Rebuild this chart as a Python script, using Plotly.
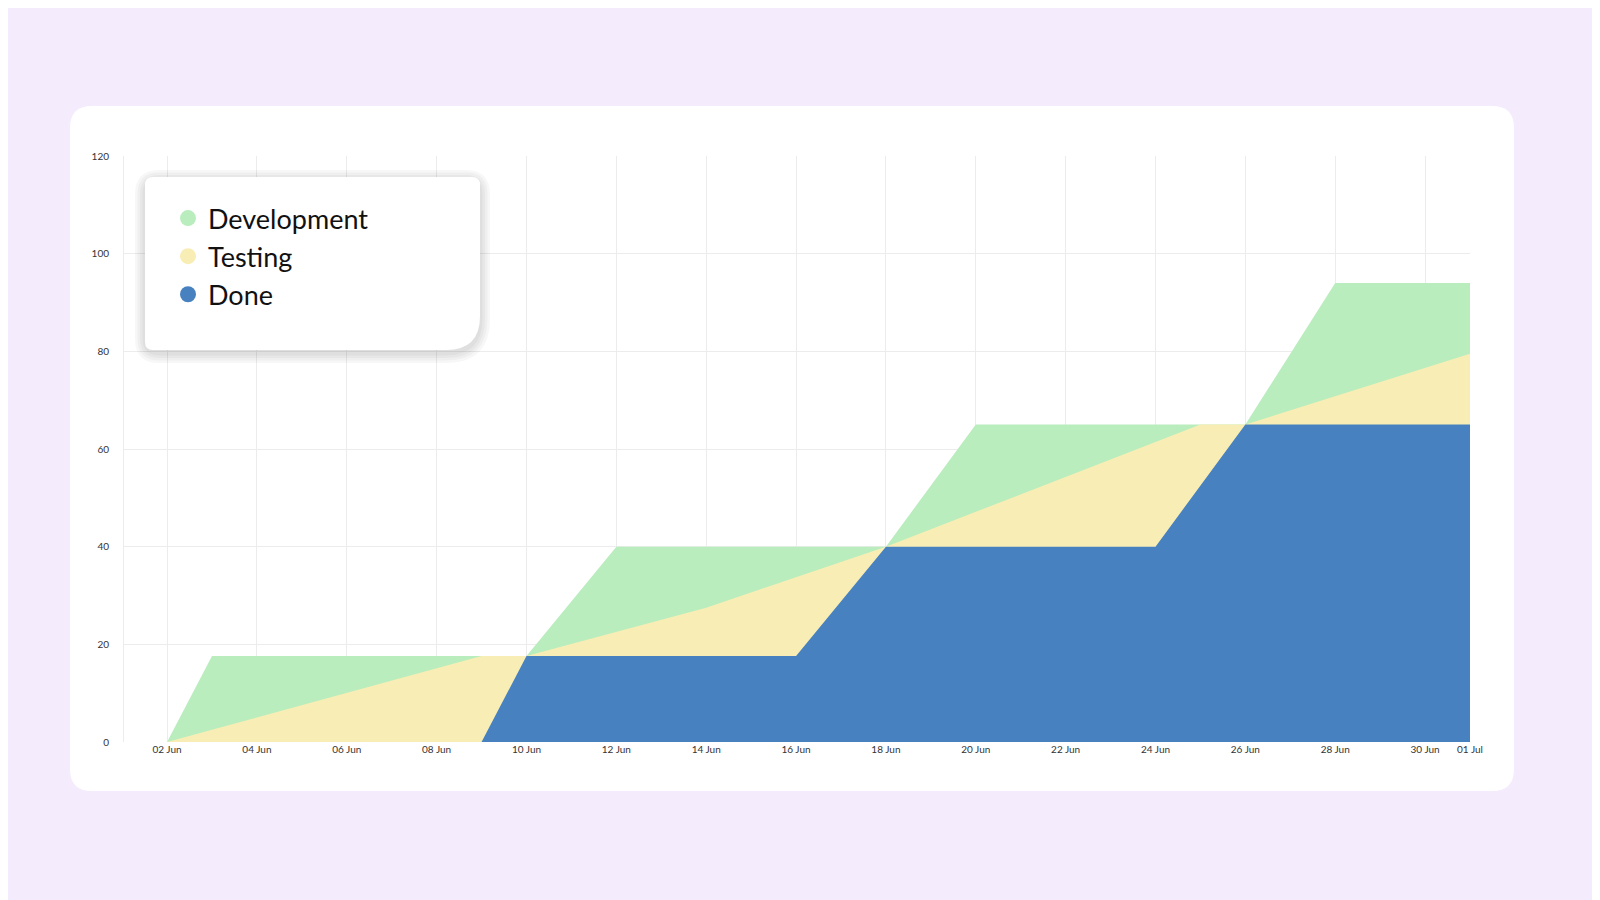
import plotly.graph_objects as go

dev_dates = ["2023-06-02", "2023-06-03", "2023-06-10", "2023-06-12", "2023-06-18", "2023-06-20", "2023-06-26", "2023-06-28", "2023-07-01"]
dev_top = [0, 17.6, 17.6, 40, 40, 65, 65, 94, 94]
test_dates = ["2023-06-02", "2023-06-09", "2023-06-10", "2023-06-14", "2023-06-18", "2023-06-25", "2023-06-26", "2023-07-01"]
test_top = [0, 17.6, 17.6, 27.5, 40, 65, 65, 79.5]
done_dates = ["2023-06-02", "2023-06-09", "2023-06-10", "2023-06-16", "2023-06-18", "2023-06-24", "2023-06-26", "2023-07-01"]
done_top = [0, 0, 17.6, 17.6, 40, 40, 65, 65]
names = ["Development", "Testing", "Done"]
colors = ["#b9edbd", "#f8eeb5", "#4781c0"]

fig = go.Figure()
for d, v, c in [(dev_dates, dev_top, colors[0]), (test_dates, test_top, colors[1]), (done_dates, done_top, colors[2])]:
    fig.add_trace(go.Scatter(x=d, y=v, mode="lines", line=dict(width=0, color=c),
                             fill="tozeroy", fillcolor=c, showlegend=False, hoverinfo="x+y"))
for n, c in zip(names, colors):
    fig.add_trace(go.Scatter(x=[None], y=[None], mode="markers", name=n,
                             marker=dict(size=16, color=c, symbol="circle")))

L, R, T, B = 116, 1462, 148, 734
W, H = R - L, B - T
def px(x): return (x - L) / W
def py(y): return (B - y) / H

def rpath(x0, y0, x1, y1, r, rbr=None):
    rbr = r if rbr is None else rbr
    ax, ay = r / W, r / H
    bx, by = rbr / W, rbr / H
    X0, X1, Y0, Y1 = px(x0), px(x1), py(y0), py(y1)  # Y0 top
    return (f"M{X0+ax},{Y0} L{X1-ax},{Y0} Q{X1},{Y0} {X1},{Y0-ay} "
            f"L{X1},{Y1+by} Q{X1},{Y1} {X1-bx},{Y1} L{X0+ax},{Y1} Q{X0},{Y1} {X0},{Y1+ay} "
            f"L{X0},{Y0-ay} Q{X0},{Y0} {X0+ax},{Y0} Z")

shapes = [dict(type="path", xref="paper", yref="paper", layer="below",
               path=rpath(62, 98, 1506, 783, 22), fillcolor="white", line=dict(width=0))]
# legend card shadow + card
for i, a in enumerate([0.03, 0.03, 0.03, 0.03]):
    s = 10 - i * 2.5
    shapes.append(dict(type="path", xref="paper", yref="paper", layer="above",
                       path=rpath(137 - s, 169 - s + 3, 472 + s, 342 + s + 3, 14 + s, 34 + s),
                       fillcolor=f"rgba(0,0,0,{a})", line=dict(width=0)))
shapes.append(dict(type="path", xref="paper", yref="paper", layer="above",
                   path=rpath(137, 169, 472, 342, 8, 34), fillcolor="white", line=dict(width=0)))

fig.update_layout(
    width=1600, height=900,
    margin=dict(l=L, r=1600 - R, t=T, b=900 - B),
    paper_bgcolor="#f4ecfd", plot_bgcolor="rgba(0,0,0,0)",
    font=dict(family="Lato", color="#333"),
    shapes=shapes,
    showlegend=True,
    legend=dict(x=px(160), y=py(186), xanchor="left", yanchor="top",
                bgcolor="rgba(0,0,0,0)", font=dict(size=27, color="#111", family="Lato"),
                tracegroupgap=0, itemwidth=30),
    xaxis=dict(type="date", range=["2023-06-01 01:00", "2023-07-01"],
               tickvals=["2023-06-%02d" % d for d in range(2, 31, 2)] + ["2023-07-01"],
               tickformat="%d %b", tickfont=dict(size=10, color="#333"),
               showgrid=True, gridcolor="#ececec", zeroline=False, showline=False, ticks=""),
    yaxis=dict(range=[0, 120], tickvals=[0, 20, 40, 60, 80, 100, 120],
               tickfont=dict(size=10, color="#333"), showgrid=True, gridcolor="#ececec",
               zeroline=False, showline=True, linecolor="#ececec", ticks="", ticklabelstandoff=12),
)
fig.write_html("out.html")
